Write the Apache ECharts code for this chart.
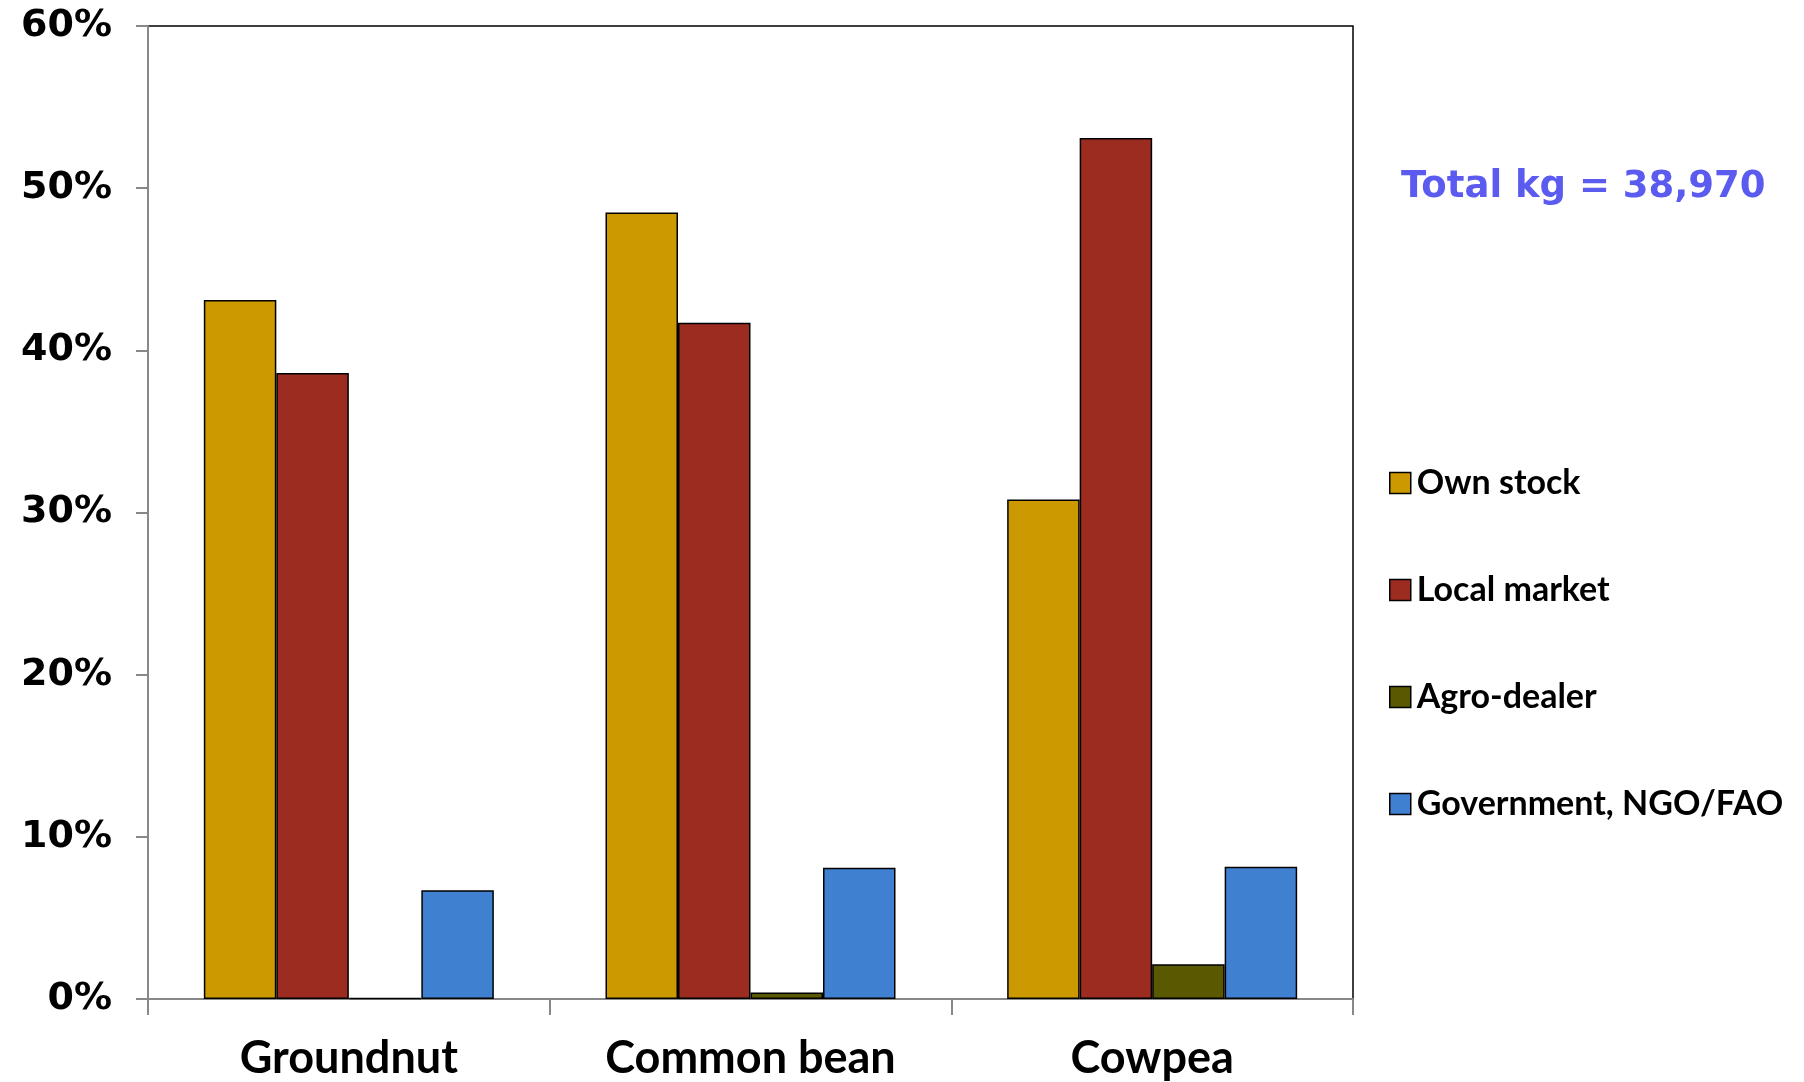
<!DOCTYPE html>
<html>
<head>
<meta charset="utf-8">
<script src="https://cdn.jsdelivr.net/npm/echarts@6/dist/echarts.min.js"></script>
<style>
html,body{margin:0;padding:0;background:#fff;}
#chart{width:1804px;height:1082px;}
</style>
</head>
<body>
<div id="chart"></div>
<script>
const categories = ['Groundnut', 'Common bean', 'Cowpea'];
const ownStock = [43.1, 48.5, 30.8];
const localMarket = [38.6, 41.7, 53.1];
const agroDealer = [0.05, 0.4, 2.15];
const government = [6.7, 8.1, 8.15];
const seriesNames = ['Own stock', 'Local market', 'Agro-dealer', 'Government, NGO/FAO'];
const seriesColors = ['#CC9900', '#9C2C20', '#5A5800', '#4080D0'];
const yTicks = [0, 10, 20, 30, 40, 50, 60];
const annotation = 'Total kg = 38,970';

const chart = echarts.init(document.getElementById('chart'));
const dataSets = [ownStock, localMarket, agroDealer, government];
const catFont = 'Lato, "Open Sans", sans-serif';

chart.setOption({
  backgroundColor: '#fff',
  animation: false,
  title: {
    text: annotation,
    left: 1396, top: 164,
    textStyle: { color: '#5B5BF0', fontFamily: '"DejaVu Sans", Verdana, sans-serif', fontWeight: 'bold', fontSize: 37 }
  },
  legend: {
    orient: 'vertical',
    left: 1384, top: 461,
    itemWidth: 21, itemHeight: 21,
    itemGap: 73,
    icon: 'rect',
    data: seriesNames,
    textStyle: { fontFamily: catFont, fontWeight: 'bold', fontSize: 34, color: '#000', padding: [0, 0, 0, 1] },
    itemStyle: { borderColor: '#000', borderWidth: 1.5 }
  },
  grid: {
    left: 148, right: 451, top: 26, bottom: 83,
    show: true, borderColor: '#000', borderWidth: 1.5, backgroundColor: '#fff'
  },
  xAxis: {
    type: 'category',
    data: categories,
    axisLine: { lineStyle: { color: '#888', width: 2 } },
    axisTick: { show: true, length: 16, alignWithLabel: false, lineStyle: { color: '#888', width: 2 } },
    axisLabel: { margin: 37, fontFamily: catFont, fontWeight: 'bold', fontSize: 45, color: '#000' }
  },
  yAxis: {
    type: 'value',
    min: 0, max: 60, interval: 10,
    axisLine: { show: true, lineStyle: { color: '#888', width: 2 } },
    axisTick: { show: true, length: 12, lineStyle: { color: '#888', width: 2 } },
    splitLine: { show: false },
    axisLabel: {
      margin: 36,
      fontFamily: '"DejaVu Sans", Verdana, sans-serif', fontWeight: 'bold', fontSize: 38, color: '#000',
      formatter: v => (yTicks.includes(v) ? v + '%' : '')
    }
  },
  series: dataSets.map((d, i) => ({
    name: seriesNames[i],
    type: 'bar',
    data: d,
    barGap: '0%',
    barCategoryGap: '27.8%',
    itemStyle: { color: seriesColors[i], borderColor: '#000', borderWidth: 1.5 }
  }))
});
</script>
</body>
</html>
